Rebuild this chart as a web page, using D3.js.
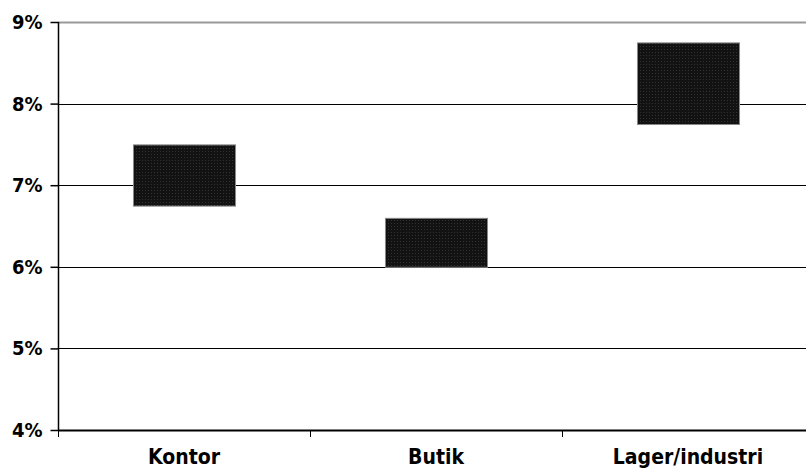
<!DOCTYPE html>
<html><head><meta charset="utf-8">
<script src="https://cdn.jsdelivr.net/npm/d3@7"></script>
<style>body{margin:0;background:#fff}svg{display:block}</style>
</head><body>
<svg id="c" width="806" height="470"></svg>
<script>
const categories = ["Kontor", "Butik", "Lager/industri"];
const lowValues = [6.75, 6.0, 7.75];
const highValues = [7.5, 6.6, 8.75];
const yTicks = [4, 5, 6, 7, 8, 9];

const svg = d3.select("#c");
const x = d3.scaleBand().domain(categories).range([58, 814]).padding(0);
const y = d3.scaleLinear().domain([4, 9]).range([430, 22]);
const barFrac = 0.405;

const defs = svg.append("defs");
const pat = defs.append("pattern").attr("id", "dots").attr("patternUnits", "userSpaceOnUse")
  .attr("width", 3).attr("height", 3);
pat.append("rect").attr("width", 3).attr("height", 3).attr("fill", "#121212");
pat.append("rect").attr("x", 1).attr("y", 1).attr("width", 1).attr("height", 1).attr("fill", "#333");

// gridlines
svg.append("g").selectAll("line").data(yTicks.filter(d => d > 4)).join("line")
  .attr("x1", 58).attr("x2", 806)
  .attr("y1", d => Math.round(y(d)) + 0.5).attr("y2", d => Math.round(y(d)) + 0.5)
  .attr("stroke", d => d === 9 ? "#999" : "#000").attr("stroke-width", d => d === 9 ? 2 : 1);

// bars
svg.append("g").selectAll("rect").data(categories).join("rect")
  .attr("x", d => x(d) + x.bandwidth() * (1 - barFrac) / 2 + 0.5)
  .attr("width", x.bandwidth() * barFrac)
  .attr("y", (d, i) => y(highValues[i]) + 0.5)
  .attr("height", (d, i) => y(lowValues[i]) - y(highValues[i]))
  .attr("fill", "url(#dots)").attr("stroke", "#888").attr("stroke-width", 1);

// y axis
const yAxis = d3.axisLeft(y).tickValues(yTicks).tickSize(8).tickPadding(8).tickFormat(d => d + "%");
const gy = svg.append("g").attr("transform", "translate(58.5,0)").call(yAxis);
gy.select(".domain").attr("stroke", "#000").attr("stroke-width", 1.5).attr("d", "M0," + y(9) + "V" + y(4));
gy.selectAll(".tick line").attr("stroke", "#000").attr("stroke-width", 1.5);
gy.selectAll("text").attr("font-family", "'DejaVu Sans Condensed', 'DejaVu Sans'").attr("font-weight", "bold")
  .attr("font-size", 20).attr("fill", "#000");

// x axis
const gx = svg.append("g").attr("transform", "translate(0,430)");
gx.append("line").attr("x1", 58).attr("x2", 806).attr("y1", 0.5).attr("y2", 0.5).attr("stroke", "#000").attr("stroke-width", 2);
gx.selectAll(".sep").data(categories).join("line")
  .attr("x1", d => Math.round(x(d)) + 0.5).attr("x2", d => Math.round(x(d)) + 0.5)
  .attr("y1", 0).attr("y2", 7).attr("stroke", "#000").attr("stroke-width", 1);
gx.selectAll(".lab").data(categories).join("text")
  .attr("x", d => x(d) + x.bandwidth() / 2).attr("y", 34)
  .attr("text-anchor", "middle")
  .attr("font-family", "'DejaVu Sans Condensed', 'DejaVu Sans'").attr("font-weight", "bold")
  .attr("font-size", 21).attr("fill", "#000").text(d => d);
</script>
</body></html>
